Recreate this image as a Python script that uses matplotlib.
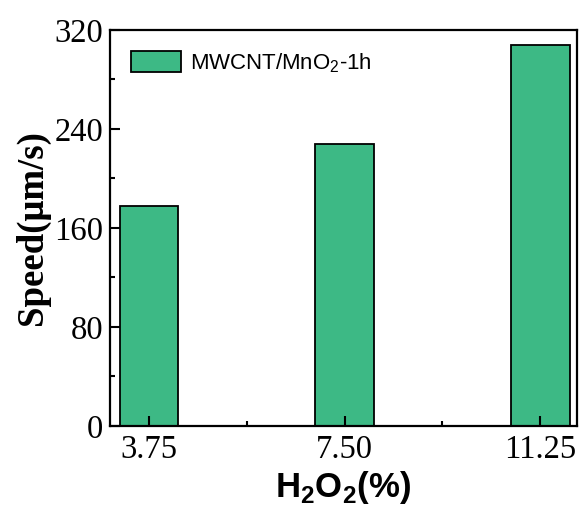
import numpy as np
import matplotlib
matplotlib.use("Agg")
from matplotlib import pyplot as plt
from matplotlib.ticker import MultipleLocator

# H2O2 concentration (%) and speed (um/s)
conc = [3.75, 7.50, 11.25]
conc_labels = ["3.75", "7.50", "11.25"]
speed = [178, 228, 308]

plt.rcParams['mathtext.fontset'] = 'custom'
plt.rcParams['mathtext.rm'] = 'Liberation Sans'
plt.rcParams['mathtext.bf'] = 'Liberation Sans:bold'

fig = plt.figure(figsize=(5.79, 5.13), dpi=100)
ax = fig.add_axes([0.190, 0.170, 0.806, 0.7715])

ax.bar(conc, speed, width=1.125, color='#3DB985', edgecolor='black',
       linewidth=1.3, label='MWCNT/MnO$_2$-1h')

ax.set_xlim(3.0, 11.95)
ax.set_ylim(0, 320)
ax.set_xticks(conc)
ax.set_xticklabels(conc_labels)
ax.xaxis.set_minor_locator(MultipleLocator(1.875))
ax.yaxis.set_major_locator(MultipleLocator(80))
ax.yaxis.set_minor_locator(MultipleLocator(40))

ax.tick_params(which='major', direction='in', length=7, width=1.5, pad=6)
ax.tick_params(which='minor', direction='in', length=3.5, width=1.5)
ax.tick_params(axis='y', which='major', pad=5)
for lab in ax.get_xticklabels() + ax.get_yticklabels():
    lab.set_fontfamily('Liberation Serif')
    lab.set_fontsize(23.5)

for s in ax.spines.values():
    s.set_linewidth(1.6)

ax.set_ylabel('Speed(μm/s)', family='Liberation Serif', fontweight='bold',
              fontsize=26.5, labelpad=3)
ax.set_xlabel(r'H$_\mathbf{2}$O$_\mathbf{2}$(%)', family='Liberation Sans',
              fontweight='bold', fontsize=25, labelpad=3)

leg = ax.legend(loc='upper left', frameon=False, prop={'family': 'Liberation Sans', 'size': 16},
                handlelength=2.25, handleheight=1.1, borderaxespad=0.55, handletextpad=0.4)

fig.savefig('out.png', dpi=100)
